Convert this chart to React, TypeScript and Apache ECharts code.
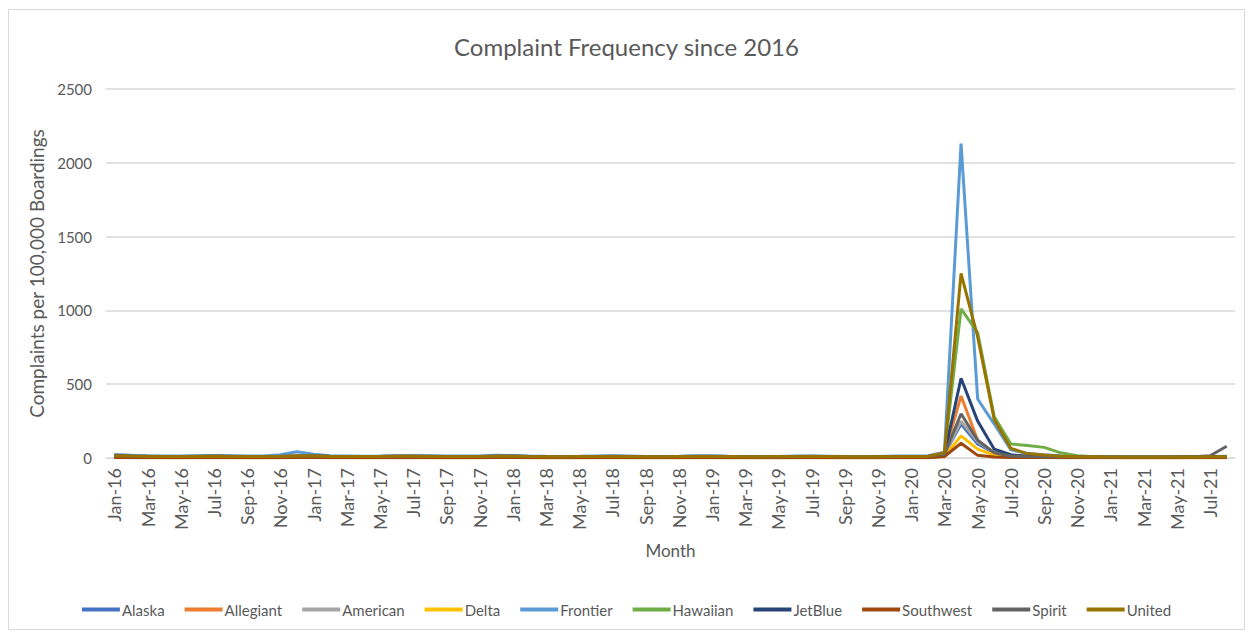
import React, { useEffect, useRef } from "react";
import * as echarts from "echarts";

const MONTH_NAMES = ["Jan", "Feb", "Mar", "Apr", "May", "Jun", "Jul", "Aug", "Sep", "Oct", "Nov", "Dec"];
const YEARS = ["16", "17", "18", "19", "20", "21"];
const categories: string[] = [];
for (const y of YEARS) {
  for (const m of MONTH_NAMES) {
    categories.push(`${m}-${y}`);
  }
}
const months = categories.slice(0, 68);

const alaska = [
  9, 7, 6, 5, 5, 6, 6, 5, 5, 5, 6, 8,
  7, 6, 5, 5, 6, 6, 6, 5, 5, 5, 5, 6,
  6, 5, 5, 4, 5, 5, 6, 5, 4, 4, 5, 6,
  6, 5, 4, 4, 5, 5, 5, 5, 4, 4, 4, 5,
  5, 6, 25, 230, 95, 35, 15, 10, 8, 6, 5, 5,
  4, 4, 4, 3, 3, 4, 4, 5,
];
const allegiant = [
  14, 11, 9, 8, 9, 10, 11, 10, 9, 9, 10, 13,
  12, 10, 9, 9, 10, 11, 11, 10, 9, 9, 10, 11,
  10, 9, 8, 8, 9, 10, 10, 9, 8, 8, 9, 10,
  10, 9, 8, 8, 9, 9, 10, 9, 8, 8, 9, 10,
  9, 10, 30, 420, 120, 35, 15, 10, 9, 8, 8, 8,
  7, 7, 6, 7, 8, 8, 9, 10,
];
const american = [
  10, 8, 7, 6, 6, 7, 8, 7, 6, 6, 7, 9,
  9, 7, 6, 6, 7, 8, 8, 7, 6, 6, 6, 8,
  8, 7, 6, 5, 6, 7, 7, 6, 5, 5, 6, 7,
  7, 6, 5, 5, 6, 6, 7, 6, 5, 5, 5, 6,
  6, 7, 22, 250, 110, 35, 14, 9, 7, 6, 6, 5,
  5, 5, 5, 4, 5, 5, 6, 6,
];
const delta = [
  4, 3, 3, 2, 2, 3, 3, 3, 2, 2, 3, 4,
  4, 3, 3, 2, 3, 3, 3, 3, 2, 2, 3, 3,
  3, 3, 2, 2, 2, 3, 3, 2, 2, 2, 2, 3,
  3, 2, 2, 2, 2, 3, 3, 2, 2, 2, 2, 3,
  3, 3, 12, 150, 60, 20, 8, 5, 4, 3, 3, 3,
  3, 2, 2, 2, 2, 3, 3, 3,
];
const frontier = [
  24, 18, 15, 13, 13, 15, 17, 15, 13, 14, 22, 42,
  26, 16, 14, 12, 13, 15, 16, 15, 13, 13, 14, 18,
  17, 14, 12, 11, 12, 14, 15, 13, 11, 11, 12, 15,
  15, 12, 11, 10, 11, 13, 14, 12, 10, 10, 11, 14,
  14, 15, 40, 2130, 400, 230, 55, 30, 22, 15, 12, 11,
  10, 9, 9, 8, 9, 10, 11, 12,
];
const hawaiian = [
  8, 6, 5, 5, 5, 6, 6, 5, 5, 5, 5, 7,
  7, 6, 5, 5, 5, 6, 6, 5, 5, 5, 5, 6,
  6, 5, 5, 4, 5, 5, 6, 5, 4, 4, 5, 6,
  6, 5, 4, 4, 5, 5, 5, 5, 4, 4, 4, 5,
  5, 6, 30, 1010, 850, 280, 95, 85, 72, 35, 15, 8,
  6, 5, 5, 4, 4, 5, 5, 6,
];
const jetblue = [
  10, 8, 7, 6, 6, 7, 8, 7, 6, 6, 7, 9,
  9, 7, 6, 6, 7, 8, 8, 7, 6, 6, 6, 8,
  8, 7, 6, 6, 6, 7, 7, 6, 6, 6, 6, 7,
  7, 6, 6, 5, 6, 7, 7, 6, 5, 5, 6, 7,
  6, 7, 25, 540, 250, 60, 22, 12, 9, 7, 6, 6,
  5, 5, 5, 5, 5, 6, 6, 7,
];
const southwest = [
  3, 2, 2, 2, 2, 2, 3, 2, 2, 2, 2, 3,
  3, 2, 2, 2, 2, 2, 2, 2, 2, 2, 2, 3,
  3, 2, 2, 2, 2, 2, 2, 2, 2, 2, 2, 2,
  2, 2, 2, 2, 2, 2, 2, 2, 2, 2, 2, 2,
  2, 2, 10, 100, 18, 6, 4, 3, 3, 2, 2, 2,
  2, 2, 2, 2, 2, 2, 2, 2,
];
const spirit = [
  18, 14, 12, 10, 10, 12, 13, 12, 10, 11, 12, 16,
  15, 12, 11, 10, 11, 14, 14, 12, 10, 10, 11, 13,
  13, 11, 10, 9, 10, 11, 12, 11, 9, 9, 10, 12,
  12, 10, 9, 8, 9, 11, 12, 10, 9, 9, 9, 11,
  11, 12, 25, 300, 120, 35, 14, 10, 9, 8, 8, 8,
  7, 7, 7, 7, 8, 9, 15, 80,
];
const united = [
  16, 13, 11, 10, 10, 11, 12, 11, 10, 10, 11, 14,
  14, 11, 10, 10, 11, 12, 12, 11, 10, 10, 10, 12,
  12, 10, 9, 9, 10, 11, 11, 10, 9, 9, 10, 11,
  11, 10, 9, 9, 10, 10, 11, 10, 9, 9, 9, 10,
  10, 11, 35, 1250, 820, 260, 65, 30, 20, 12, 9, 8,
  7, 7, 6, 6, 6, 7, 8, 9,
];

const seriesNames = ["Alaska", "Allegiant", "American", "Delta", "Frontier", "Hawaiian", "JetBlue", "Southwest", "Spirit", "United"];
const seriesValues = [alaska, allegiant, american, delta, frontier, hawaiian, jetblue, southwest, spirit, united];
const seriesColors = ["#4472C4", "#ED7D31", "#A5A5A5", "#FFC000", "#5B9BD5", "#70AD47", "#264478", "#9E480E", "#636363", "#997300"];

const yTicks = { min: 0, max: 2500, interval: 500 };

const FONT = "Lato, 'Open Sans', sans-serif";
const TEXT = "#595959";

export default function App() {
  const ref = useRef<HTMLDivElement>(null);
  useEffect(() => {
    if (!ref.current) return;
    const chart = echarts.init(ref.current, undefined, { renderer: "svg" });
    chart.setOption({
      animation: false,
      backgroundColor: "#ffffff",
      textStyle: { fontFamily: FONT },
      title: {
        text: "Complaint Frequency since 2016",
        left: "center",
        top: 29,
        textStyle: { fontFamily: FONT, fontSize: 24, fontWeight: "normal", color: TEXT },
      },
      graphic: [
        {
          type: "rect",
          shape: { x: 8.5, y: 9.5, width: 1236, height: 620 },
          style: { fill: "none", stroke: "#d9d9d9", lineWidth: 1 },
          silent: true,
        },
      ],
      legend: {
        data: seriesNames,
        top: 597,
        left: "center",
        icon: "rect",
        itemWidth: 38,
        itemHeight: 4,
        itemGap: 20,
        textStyle: { fontFamily: FONT, fontSize: 15, color: TEXT, padding: [0, 0, 0, -3] },
      },
      grid: { left: 106, right: 18, top: 89, bottom: 179, containLabel: false },
      xAxis: {
        type: "category",
        data: months,
        boundaryGap: true,
        name: "Month",
        nameLocation: "middle",
        nameGap: 84,
        nameTextStyle: { fontFamily: FONT, fontSize: 17, color: TEXT },
        axisLine: { lineStyle: { color: "#d9d9d9" } },
        axisTick: { show: false },
        axisLabel: {
          interval: 1,
          rotate: 90,
          margin: 10,
          fontFamily: FONT,
          fontSize: 18,
          color: TEXT,
        },
      },
      yAxis: {
        type: "value",
        min: yTicks.min,
        max: yTicks.max,
        interval: yTicks.interval,
        name: "Complaints per 100,000 Boardings",
        nameLocation: "middle",
        nameRotate: 90,
        nameGap: 54,
        nameTextStyle: { fontFamily: FONT, fontSize: 19, color: TEXT },
        axisLine: { show: false },
        axisTick: { show: false },
        axisLabel: {
          fontFamily: FONT,
          fontSize: 15,
          color: TEXT,
          margin: 14,
          formatter: (v: number) => String(v),
        },
        splitLine: { lineStyle: { color: "#d9d9d9", width: 1.5 } },
      },
      series: seriesNames.map((name, i) => ({
        name,
        type: "line",
        data: seriesValues[i],
        symbol: "none",
        showSymbol: false,
        lineStyle: { color: seriesColors[i], width: 3 },
        itemStyle: { color: seriesColors[i] },
      })),
    });
    return () => chart.dispose();
  }, []);
  return (
    <div
      ref={ref}
      style={{ position: "fixed", left: 0, top: 0, width: 1253, height: 637 }}
    />
  );
}
